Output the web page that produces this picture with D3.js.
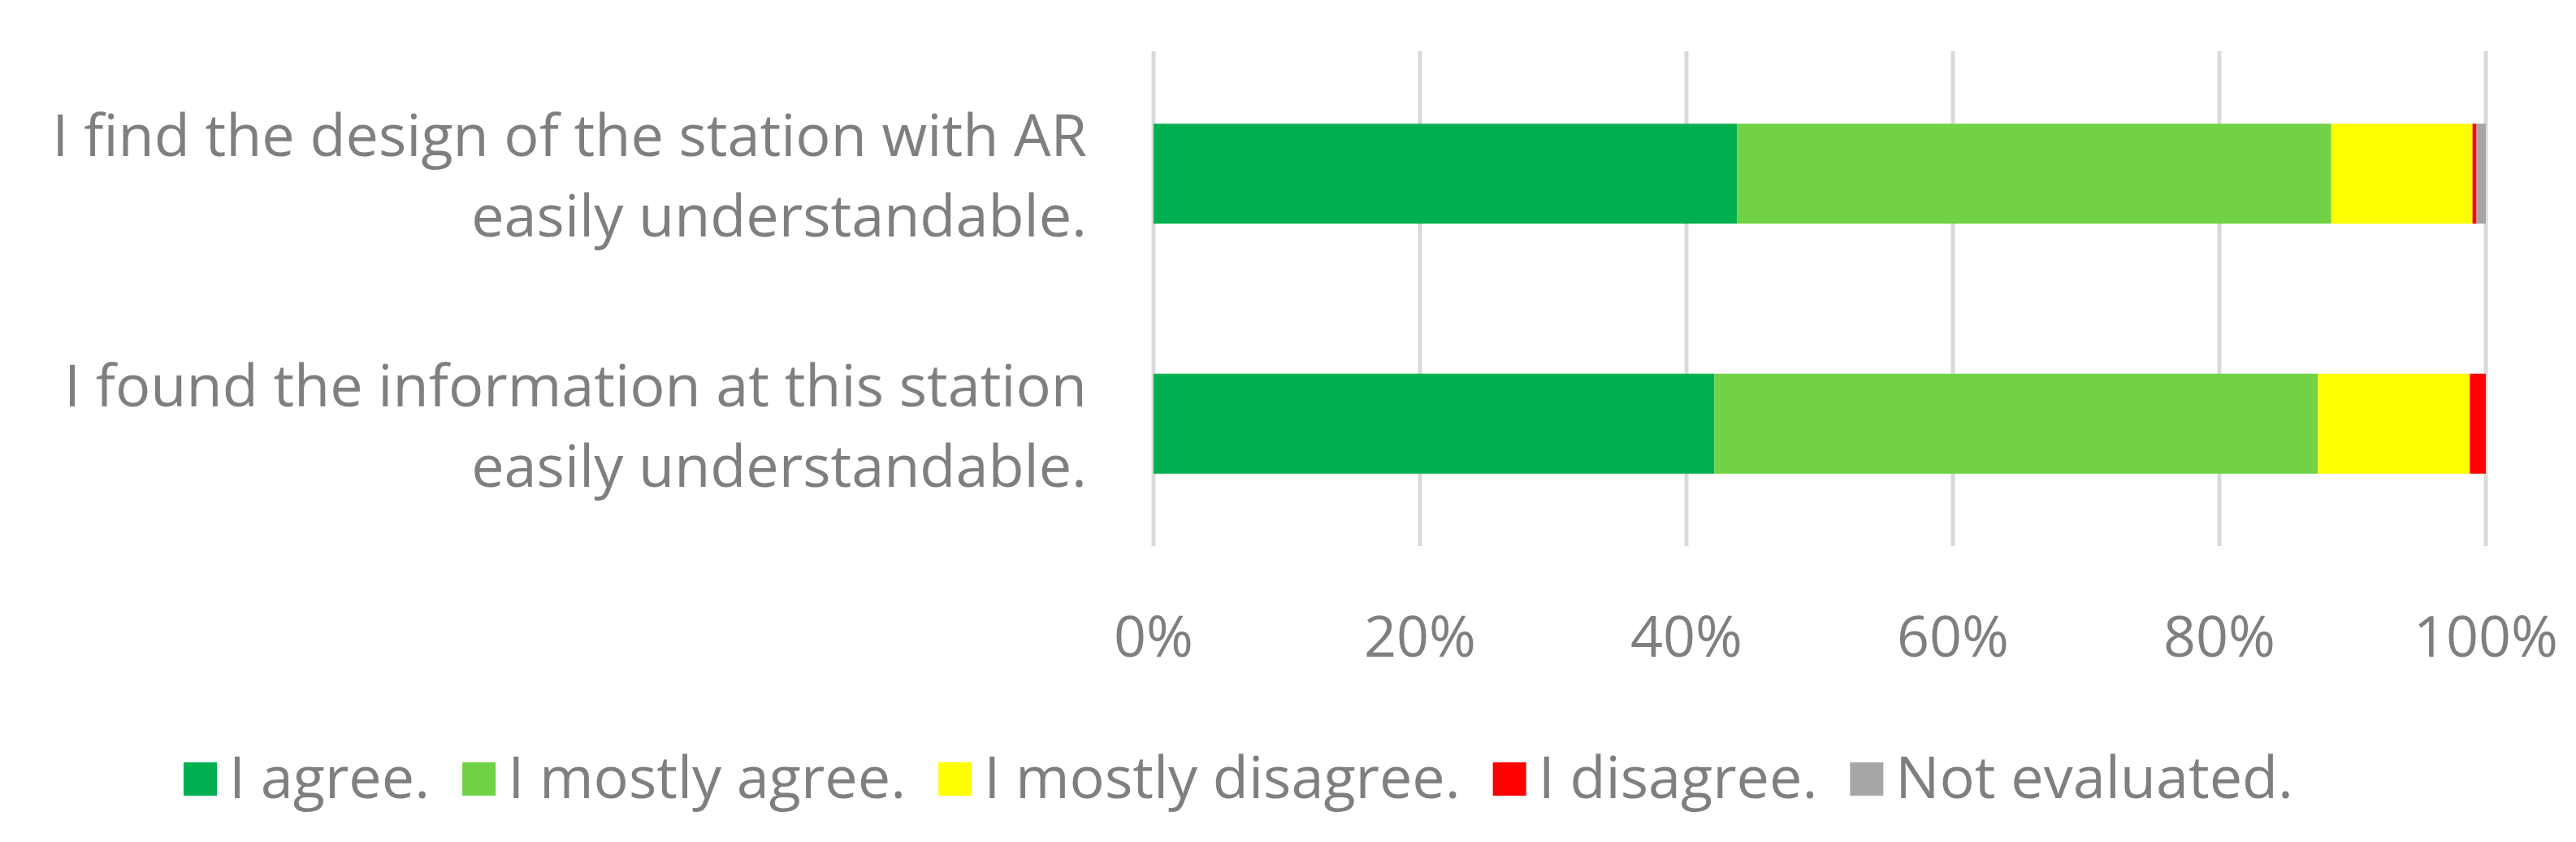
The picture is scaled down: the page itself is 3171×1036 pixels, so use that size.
<!DOCTYPE html><html><head><meta charset="utf-8"><script src="https://cdn.jsdelivr.net/npm/d3@7"></script>
<style>body{margin:0;background:#fff}text{font-family:"Open Sans",sans-serif;fill:#7f7f7f}</style></head><body>
<svg id="c" width="3171" height="1036"></svg>
<script>
const categories=[["I find the design of the station with AR","easily understandable."],["I found the information at this station","easily understandable."]];
const series=["I agree.","I mostly agree.","I mostly disagree.","I disagree.","Not evaluated."];
const colors=["#00b050","#70d244","#ffff00","#ff0000","#a6a6a6"];
const values=[[43.8,44.6,10.6,0.3,0.7],[42.1,45.3,11.4,1.2,0]];
const ticks=[0,20,40,60,80,100];
const svg=d3.select("#c");
const x=d3.scaleLinear().domain([0,100]).range([1420,3060]);
const y=d3.scaleBand().domain([0,1]).range([63,672]).paddingInner(0.6).paddingOuter(0.29);
svg.append("g").selectAll("line").data(ticks).join("line").attr("x1",d=>x(d)).attr("x2",d=>x(d)).attr("y1",63).attr("y2",672).attr("stroke","#d9d9d9").attr("stroke-width",5);
values.forEach((row,i)=>{let acc=0;row.forEach((v,j)=>{svg.append("rect").attr("x",x(acc)).attr("width",x(acc+v)-x(acc)).attr("y",y(i)).attr("height",y.bandwidth()).attr("fill",colors[j]);acc+=v;});
 const t=svg.append("text").attr("text-anchor","end").attr("font-size",72).attr("x",1338).attr("y",y(i)+y.bandwidth()/2);
 categories[i].forEach((l,k)=>t.append("tspan").attr("x",1338).attr("dy",k==0?"-0.3em":"1.38em").text(l));});
svg.append("g").selectAll("text").data(ticks).join("text").attr("x",d=>x(d)).attr("y",808).attr("text-anchor","middle").attr("font-size",70).text(d=>d+"%");
let lx=226;const lg=svg.append("g");
series.forEach((s,i)=>{lg.append("rect").attr("x",lx).attr("y",938).attr("width",41).attr("height",41).attr("fill",colors[i]);
 const t=lg.append("text").attr("x",lx+56).attr("y",982).attr("font-size",72).text(s);lx+=56+t.node().getComputedTextLength()+40;});
</script></body></html>
